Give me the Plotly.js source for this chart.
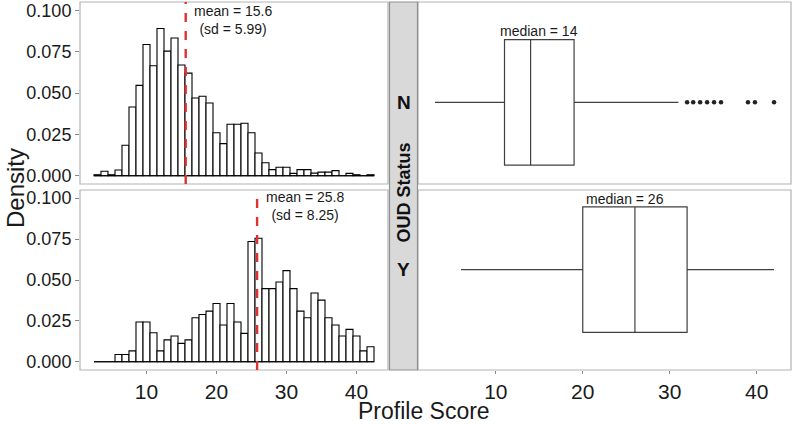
<!DOCTYPE html>
<html>
<head>
<meta charset="utf-8">
<script src="https://cdn.plot.ly/plotly-3.0.1.min.js"></script>
<style>html,body{margin:0;padding:0;background:#fff}#chart{width:792px;height:424px}</style>
</head>
<body>
<div id="chart"></div>
<script>
// ---- data ----
const bins = [3,4,5,6,7,8,9,10,11,12,13,14,15,16,17,18,19,20,21,22,23,24,25,26,27,28,29,30,31,32,33,34,35,36,37,38,39,40,41,42];
const densityN = [0.0006,0.0027,0.0006,0.0035,0.0184,0.0415,0.0546,0.0793,0.0665,0.0890,0.0753,0.0832,0.0669,0.0620,0.0470,0.0480,0.0440,0.0260,0.0194,0.0311,0.0311,0.0317,0.0260,0.0137,0.0078,0.0037,0.0051,0.0051,0.0014,0.0037,0.0037,0.0016,0.0022,0.0022,0.0031,0,0.0014,0.0006,0,0.0006];
const densityY = [0,0,0,0.0045,0.0045,0.0067,0.0243,0.0243,0.0178,0.0067,0.0134,0.0158,0.0113,0.0134,0.0269,0.0289,0.0310,0.0356,0.0225,0.0356,0.0243,0.0174,0.0735,0.0755,0.0447,0.0447,0.0488,0.0557,0.0447,0.0310,0.0269,0.0421,0.0377,0.0269,0.0225,0.0158,0.0198,0.0158,0.0067,0.0092];
const groups = ['N','Y'];
const means = [15.6, 25.8];
const sds = [5.99, 8.25];
const q1 = [11, 20];
const medians = [14, 26];
const q3 = [19, 32];
const lowerWhisker = [3, 6];
const upperWhisker = [31, 42];
const outliersN = [32.0, 32.7, 33.5, 34.3, 35.1, 35.9, 39.0, 39.8, 42.0];
const yTicks = [0, 0.025, 0.05, 0.075, 0.1];
const xTicks = [10, 20, 30, 40];

// ---- geometry helpers (pixels -> paper) ----
const W = 792, H = 424;
const px = x => x / W;
const py = y => 1 - y / H;
const FONT = 'Liberation Sans, Arial, Helvetica, sans-serif';
const TXT = '#1a1a1a';
const FRAME = '#b3b3b3';

const barStyle = {color: '#ffffff', line: {color: '#000000', width: 1.1}};
const baseX = [bins[0] - 0.5, bins[bins.length - 1] + 0.5];

const traces = [
  {type: 'bar', x: bins, y: densityN, width: 1, marker: barStyle, xaxis: 'x', yaxis: 'y', hoverinfo: 'skip'},
  {type: 'scatter', mode: 'lines', x: baseX, y: [0, 0], line: {color: '#000', width: 1.1}, xaxis: 'x', yaxis: 'y', hoverinfo: 'skip'},
  {type: 'bar', x: bins, y: densityY, width: 1, marker: barStyle, xaxis: 'x2', yaxis: 'y2', hoverinfo: 'skip'},
  {type: 'scatter', mode: 'lines', x: baseX, y: [0, 0], line: {color: '#000', width: 1.1}, xaxis: 'x2', yaxis: 'y2', hoverinfo: 'skip'},
  {type: 'box', orientation: 'h', y: groups, q1: q1, median: medians, q3: q3,
   lowerfence: lowerWhisker, upperfence: upperWhisker, boxpoints: false, width: 0.75,
   whiskerwidth: 0, fillcolor: '#ffffff', line: {color: '#404040', width: 1.2},
   xaxis: 'x3', yaxis: 'y3', hoverinfo: 'skip'},
  {type: 'scatter', mode: 'markers', x: outliersN, y: outliersN.map(() => groups[0]),
   marker: {color: '#222', size: 4.5}, xaxis: 'x3', yaxis: 'y3', hoverinfo: 'skip'}
];

const yTickText = yTicks.map(v => v.toFixed(3));
const yAx = (d) => ({domain: d, range: [-0.005, 0.105], tickvals: yTicks, ticktext: yTickText,
  ticks: 'outside', ticklen: 4, tickcolor: '#888', tickwidth: 1,
  tickfont: {size: 18, color: TXT, family: FONT}, showgrid: false, zeroline: false, showline: false, fixedrange: true});

const layout = {
  width: W, height: H,
  margin: {l: 0, r: 0, t: 0, b: 0},
  paper_bgcolor: '#ffffff', plot_bgcolor: 'rgba(0,0,0,0)',
  showlegend: false, bargap: 0,
  font: {family: FONT, color: TXT},
  xaxis: {domain: [px(80), px(388)], anchor: 'y', range: [0.5, 44.5], showticklabels: false, ticks: '',
    showgrid: false, zeroline: false, showline: false},
  yaxis: yAx([py(184), py(2)]),
  xaxis2: {domain: [px(80), px(388)], anchor: 'y2', range: [0.5, 44.5], tickvals: xTicks,
    ticks: 'outside', ticklen: 3, tickcolor: '#888', tickfont: {size: 21, color: TXT, family: FONT},
    showgrid: false, zeroline: false, showline: false},
  yaxis2: Object.assign(yAx([py(370), py(190)]), {anchor: 'x2'}),
  xaxis3: {domain: [px(418), px(791)], anchor: 'y3', range: [1.05, 43.95], tickvals: xTicks,
    ticks: 'outside', ticklen: 3, tickcolor: '#888', tickfont: {size: 21, color: TXT, family: FONT},
    showgrid: false, zeroline: false, showline: false},
  yaxis3: {domain: [py(370), py(2)], anchor: 'x3', type: 'category', categoryarray: groups,
    range: [1.6, -0.6], showticklabels: false, ticks: '', showgrid: false, zeroline: false, showline: false},
  shapes: [
    // panel frames
    {type: 'rect', xref: 'paper', yref: 'paper', x0: px(80), x1: px(388), y0: py(184), y1: py(2), line: {color: FRAME, width: 1.2}},
    {type: 'rect', xref: 'paper', yref: 'paper', x0: px(80), x1: px(388), y0: py(370), y1: py(190), line: {color: FRAME, width: 1.2}},
    {type: 'rect', xref: 'paper', yref: 'paper', x0: px(418), x1: px(791), y0: py(184), y1: py(2), line: {color: FRAME, width: 1.2}},
    {type: 'rect', xref: 'paper', yref: 'paper', x0: px(418), x1: px(791), y0: py(370), y1: py(190), line: {color: FRAME, width: 1.2}},
    // strip
    {type: 'rect', xref: 'paper', yref: 'paper', x0: px(389.5), x1: px(417.5), y0: py(370), y1: py(2), fillcolor: '#d9d9d9', line: {color: '#8f8f8f', width: 1.2}, layer: 'above'},
    // mean lines
    {type: 'line', xref: 'x', yref: 'y domain', x0: means[0], x1: means[0], y0: 0, y1: 1, line: {color: '#e03131', width: 2.4, dash: 'dash'}},
    {type: 'line', xref: 'x2', yref: 'y2 domain', x0: means[1], x1: means[1], y0: 0, y1: 1, line: {color: '#e03131', width: 2.4, dash: 'dash'}}
  ],
  annotations: [
    {xref: 'x', yref: 'y', x: means[0] + 6.8, y: 0.094, text: 'mean = ' + means[0] + '<br>(sd = ' + sds[0] + ')',
     showarrow: false, align: 'center', xanchor: 'center', yanchor: 'middle', font: {size: 14, color: TXT}},
    {xref: 'x2', yref: 'y2', x: means[1] + 6.8, y: 0.095, text: 'mean = ' + means[1] + '<br>(sd = ' + sds[1] + ')',
     showarrow: false, align: 'center', xanchor: 'center', yanchor: 'middle', font: {size: 14, color: TXT}},
    {xref: 'x3', yref: 'y3', x: (q1[0] + q3[0]) / 2, y: 0 - 0.425, text: 'median = ' + medians[0],
     showarrow: false, xanchor: 'center', yanchor: 'middle', font: {size: 14, color: TXT}},
    {xref: 'x3', yref: 'y3', x: 24.9, y: 1 - 0.425, text: 'median = ' + medians[1],
     showarrow: false, xanchor: 'center', yanchor: 'middle', font: {size: 14, color: TXT}},
    // strip texts
    {xref: 'paper', yref: 'y3', x: px(403.5), y: 0, text: '<b>' + groups[0] + '</b>', showarrow: false,
     xanchor: 'center', yanchor: 'middle', font: {size: 19, color: '#111'}},
    {xref: 'paper', yref: 'y3', x: px(403.5), y: 1, text: '<b>' + groups[1] + '</b>', showarrow: false,
     xanchor: 'center', yanchor: 'middle', font: {size: 19, color: '#111'}},
    {xref: 'paper', yref: 'paper', x: px(403.5), y: py(193), text: '<b>OUD Status</b>', showarrow: false,
     textangle: -90, xanchor: 'center', yanchor: 'middle', font: {size: 18, color: '#111'}},
    // axis titles
    {xref: 'paper', yref: 'paper', x: px(424), y: py(411), text: 'Profile Score', showarrow: false,
     xanchor: 'center', yanchor: 'middle', font: {size: 23, color: TXT}},
    {xref: 'paper', yref: 'paper', x: px(15), y: py(188), text: 'Density', showarrow: false, textangle: -90,
     xanchor: 'center', yanchor: 'middle', font: {size: 24, color: TXT}}
  ]
};

Plotly.newPlot('chart', traces, layout, {staticPlot: true, displayModeBar: false});
</script>
</body>
</html>
